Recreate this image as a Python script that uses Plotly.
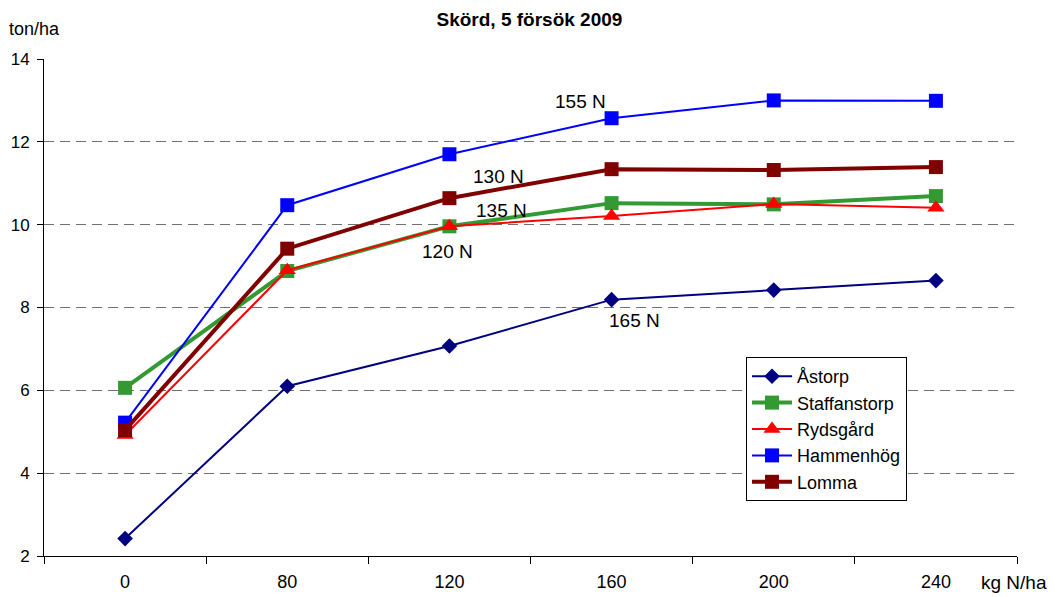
import plotly.graph_objects as go

categories = ["0", "80", "120", "160", "200", "240"]
astorp = [2.42, 6.1, 7.07, 8.19, 8.42, 8.65]
staffanstorp = [6.06, 8.88, 9.96, 10.52, 10.49, 10.69]
rydsgard = [4.92, 8.9, 9.96, 10.21, 10.5, 10.41]
hammenhog = [5.22, 10.47, 11.7, 12.57, 13.0, 12.99]
lomma = [5.04, 9.42, 10.64, 11.34, 11.32, 11.39]

series = [
    ("Åstorp", astorp, "#000080", 2, "diamond", 12),
    ("Staffanstorp", staffanstorp, "#339933", 4, "square", 14),
    ("Rydsgård", rydsgard, "#FF0000", 2, "triangle-up", 15),
    ("Hammenhög", hammenhog, "#0000FF", 2, "square", 14),
    ("Lomma", lomma, "#800000", 4, "square", 14),
]

fig = go.Figure()
for name, vals, color, lw, sym, ms in series:
    fig.add_trace(go.Scatter(
        x=categories, y=vals, name=name, mode="lines+markers",
        line=dict(color=color, width=lw),
        marker=dict(symbol=sym, size=ms, color=color),
    ))

font = "Liberation Sans, Arial, sans-serif"
notes = [("155 N", 2.81, 12.97), ("130 N", 2.30, 11.17), ("135 N", 2.32, 10.35),
         ("120 N", 1.99, 9.35), ("165 N", 3.14, 7.68)]
anns = [dict(x=x, y=y, xref="x", yref="y", text=t, showarrow=False,
             font=dict(size=19, color="black", family=font)) for t, x, y in notes]
anns += [
    dict(x=-0.0093, y=1.060, xref="paper", yref="paper", xanchor="center", yanchor="middle",
         text="ton/ha", showarrow=False, font=dict(size=18, family=font, color="black")),
    dict(x=0.9974, y=-0.0543, xref="paper", yref="paper", xanchor="center", yanchor="middle",
         text="kg N/ha", showarrow=False, font=dict(size=19, family=font, color="black")),
]

fig.update_layout(
    width=1053, height=589,
    margin=dict(l=36, r=44, t=51, b=41, autoexpand=False),
    paper_bgcolor="white", plot_bgcolor="white",
    font=dict(family=font, size=17, color="black"),
    title=dict(text="<b>Skörd, 5 försök 2009</b>", x=0.4952, xanchor="center",
               y=0.981, yanchor="middle", font=dict(size=19, family=font)),
    legend=dict(x=0.7215, y=0.4004, xanchor="left", yanchor="top",
                bordercolor="black", borderwidth=1, bgcolor="white",
                font=dict(size=18, family=font), tracegroupgap=0, itemwidth=40),
    annotations=anns,
    showlegend=True,
)
fig.update_xaxes(type="category", tickson="boundaries", ticks="outside", ticklen=7,
                 tickcolor="black", showline=True, linecolor="black", linewidth=1,
                 showgrid=False, tickfont=dict(size=18), range=[-0.5, 5.5],
                 ticklabelstandoff=9, automargin=False)
fig.update_yaxes(range=[2, 14], dtick=2, ticks="outside", ticklen=6, tickcolor="black",
                 showline=True, linecolor="black", linewidth=1,
                 showgrid=True, gridcolor="#707070", griddash="10px,6px", gridwidth=1,
                 zeroline=False, tickfont=dict(size=17), ticklabelstandoff=4,
                 automargin=False)

fig.write_html("out.html")
